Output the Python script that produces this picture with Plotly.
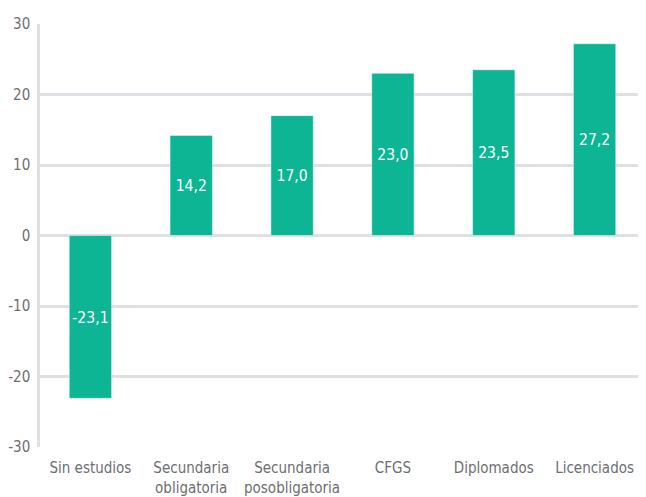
import plotly.graph_objects as go

categories = ["Sin estudios", "Secundaria<br>obligatoria", "Secundaria<br>posobligatoria",
              "CFGS", "Diplomados", "Licenciados"]
values = [-23.1, 14.2, 17.0, 23.0, 23.5, 27.2]
labels = [f"{v:.1f}".replace(".", ",") for v in values]
yticks = [-30, -20, -10, 0, 10, 20, 30]

FONT = "Liberation Sans Narrow, DejaVu Sans Condensed, sans-serif"
GRID = "#dfe0e3"

fig = go.Figure(go.Bar(
    x=categories, y=values, text=labels,
    textposition="inside", insidetextanchor="middle", textangle=0,
    textfont=dict(family=FONT, size=18, color="white"),
    marker=dict(color="#0db595", line=dict(color="rgba(255,255,255,0.45)", width=1)),
    cliponaxis=False,
))

# page has an 8px body margin, so the figure is sized/offset to compensate
fig.update_layout(
    width=638, height=489,
    margin=dict(l=32, r=1, t=16, b=50, autoexpand=False),
    plot_bgcolor="white", paper_bgcolor="white",
    bargap=0.58,
    showlegend=False,
    font=dict(family=FONT, color="#6d6e71"),
    uniformtext=dict(minsize=10, mode="show"),
)
fig.update_xaxes(
    tickfont=dict(size=15, family=FONT, color="#6d6e71"),
    showgrid=False, showline=False, ticks="", automargin=False,
    ticklabelstandoff=10,
)
fig.update_yaxes(
    range=[-30, 30], tickvals=yticks, ticktext=[str(t) for t in yticks],
    tickfont=dict(size=15, family=FONT, color="#6d6e71"),
    showgrid=True, gridcolor=GRID, gridwidth=2.5,
    zeroline=True, zerolinecolor=GRID, zerolinewidth=2.5,
    showline=True, linecolor=GRID, linewidth=2.5,
    ticks="", ticklabelstandoff=4, automargin=False,
)
fig.add_shape(type="line", xref="paper", yref="paper", x0=1, x1=1, y0=0, y1=1,
              line=dict(color="#e6e7e9", width=1))

fig.write_html("out.html")
